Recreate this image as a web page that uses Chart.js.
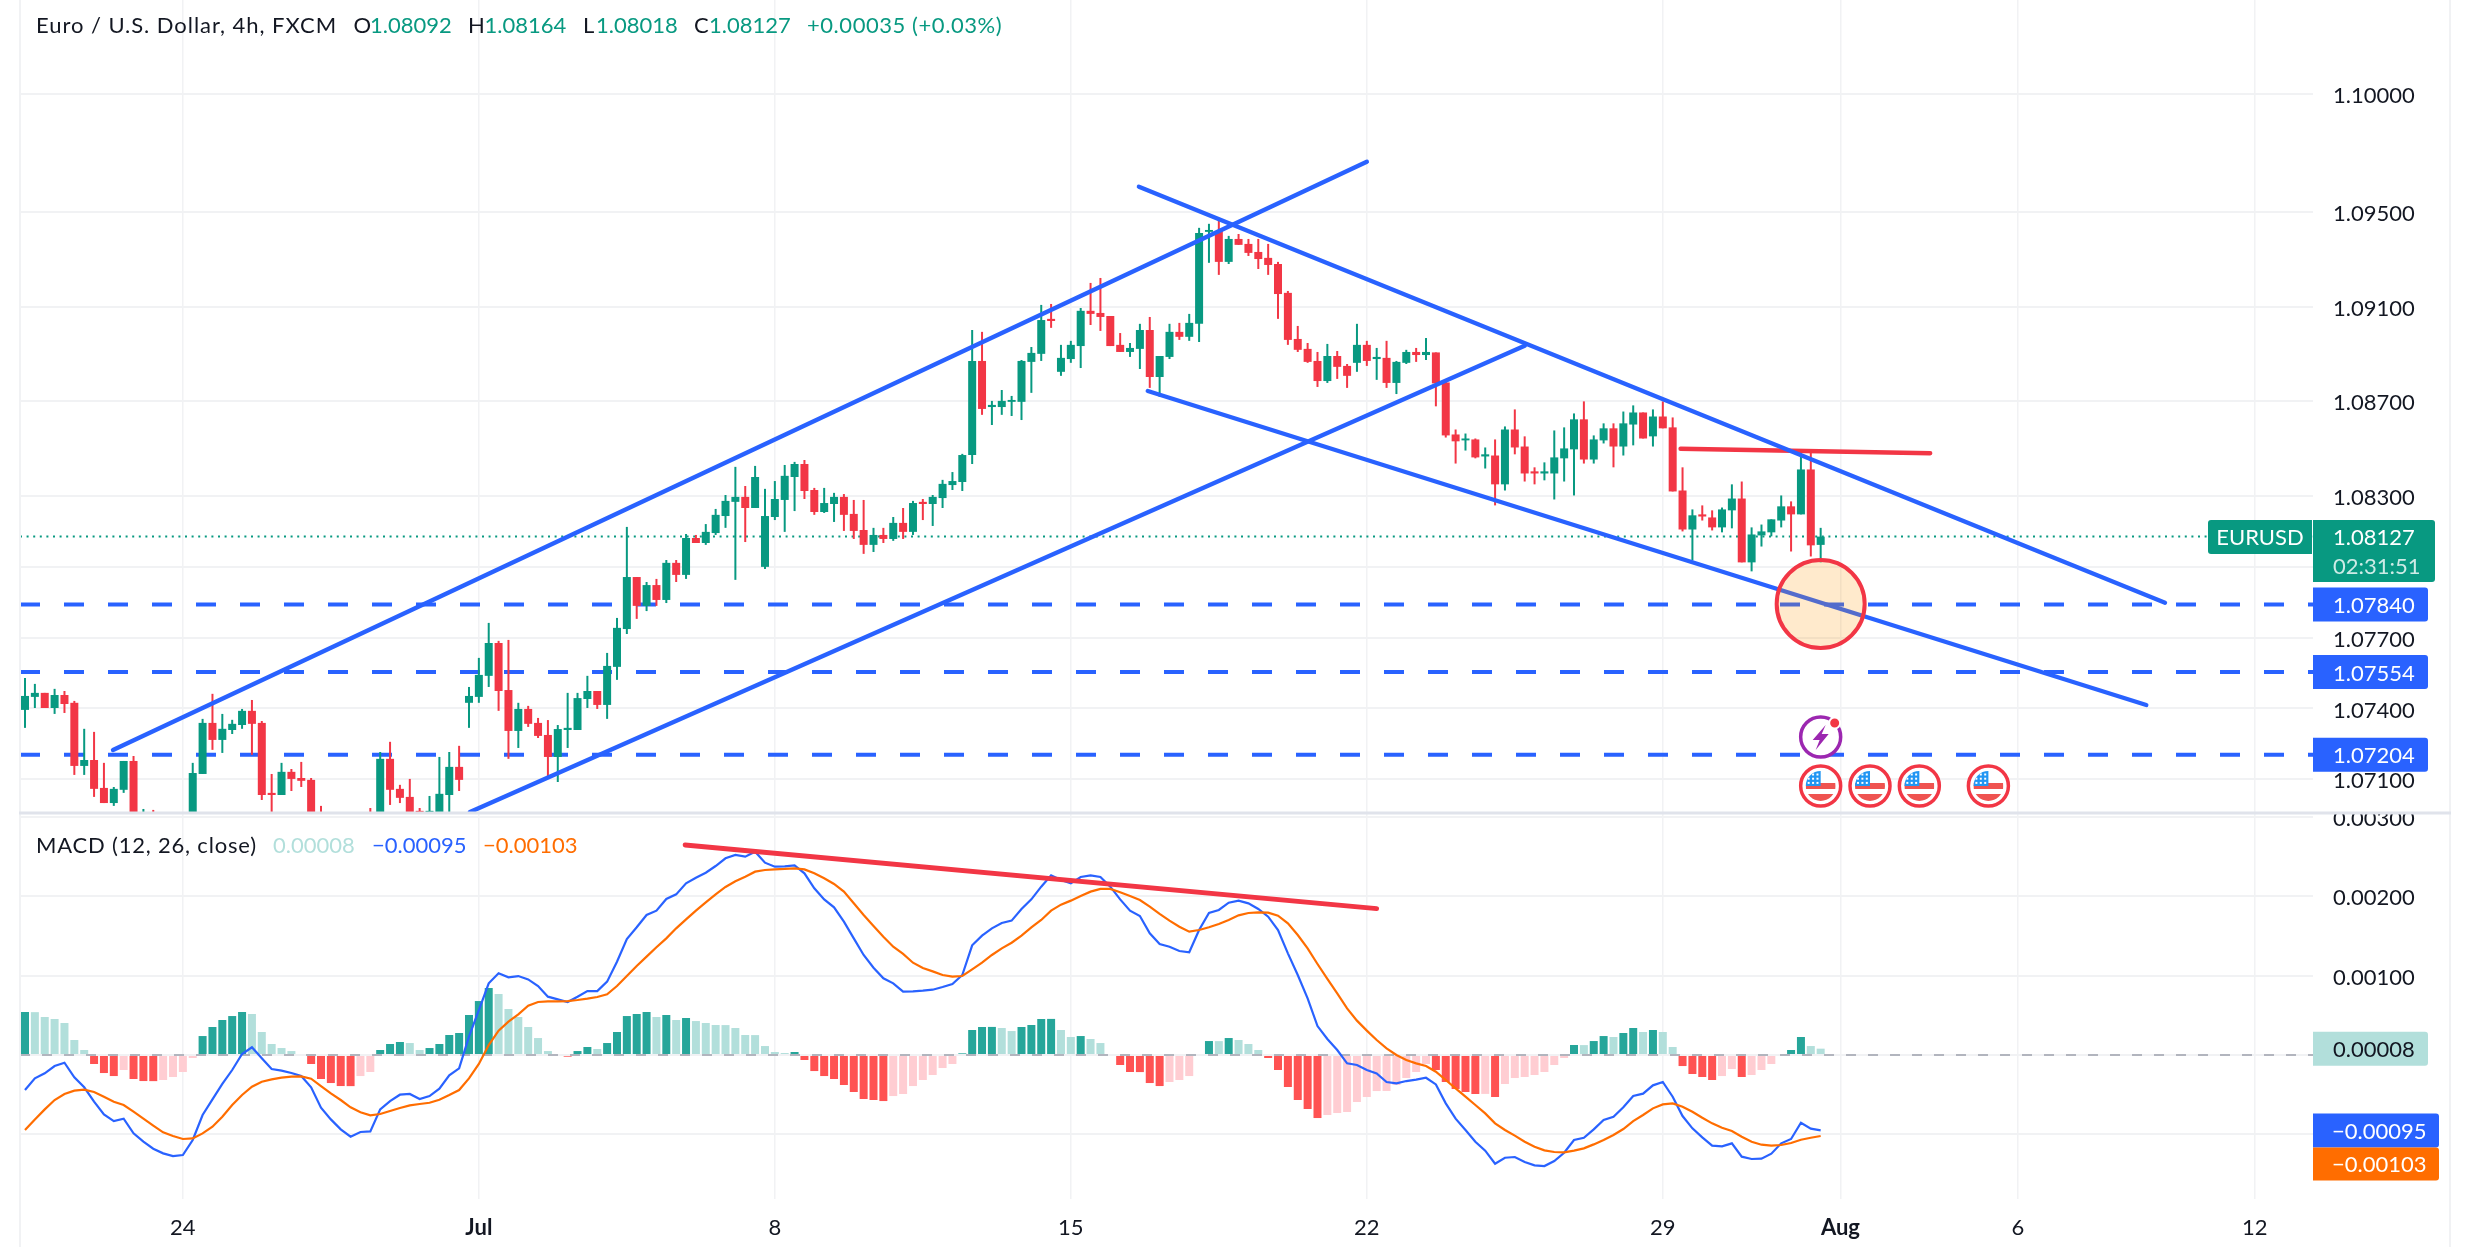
<!DOCTYPE html>
<html>
<head>
<meta charset="utf-8">
<title>EURUSD 4h</title>
<script src="https://cdn.jsdelivr.net/npm/chart.js@4/dist/chart.umd.js"></script>
<style>
  html, body { margin: 0; padding: 0; background: #fff; }
  canvas { display: block; }
</style>
</head>
<body>
<canvas id="chart" width="2470" height="1247"></canvas>
<script>
// candles, in 1e-5 price units (bar 0 is the leftmost visible 4h bar)
const opens = [
  107394,107449,107466,107402,107457,107424,107157,107182,107064,107000,107056,107178,106780,106880,106780,106860,106790,106880,107123,107339,
  107267,107309,107330,107390,107339,107043,107034,107132,107106,107098,106900,106880,106920,106850,106900,106940,106880,107187,107060,107026,
  106967,106950,106950,107034,107153,107424,107449,107538,107677,107478,107305,107398,107339,107288,107195,107309,107309,107440,107474,107415,
  107576,107736,107956,107834,107922,107859,108016,107965,108121,108100,108142,108214,108274,108295,108248,107999,108210,108282,108379,108434,
  108324,108231,108265,108295,108223,108155,108092,108134,108117,108185,108147,108274,108265,108290,108345,108358,108472,108870,108675,108675,
  108697,108697,108866,108900,109048,108824,108878,108933,109082,109073,109060,108938,108908,108921,109001,108802,108887,108993,108972,109027,
  109416,109420,109289,109386,109365,109331,109306,109280,109158,108963,108921,108870,108785,108891,108849,108862,108938,108878,108883,108777,
  108862,108908,108895,108906,108779,108559,108534,108538,108466,108470,108348,108580,108508,108403,108394,108394,108458,108496,108623,108453,
  108534,108585,108508,108601,108652,108551,108635,108589,108322,108157,108221,108208,108166,108238,108288,108018,108132,108145,108195,108255,
  108221,108411,108092
];
const highs = [
  107529,107504,107466,107483,107474,107432,107314,107301,107170,107068,107178,107199,106975,106971,106930,106920,106900,107170,107356,107462,
  107377,107352,107398,107436,107347,107123,107170,107144,107174,107106,106988,106950,106945,106930,106940,106979,107216,107259,107077,107102,
  106979,107030,107195,107216,107242,107491,107614,107762,107686,107690,107424,107411,107360,107351,107330,107466,107466,107538,107474,107635,
  107783,108168,107956,107935,107948,108028,108028,108138,108134,108180,108244,108303,108422,108341,108426,108329,108362,108430,108443,108451,
  108333,108333,108312,108307,108282,108282,108164,108164,108210,108248,108278,108286,108303,108367,108400,108477,109001,108993,108701,108747,
  108722,108874,108929,109107,109111,108938,108955,109094,109200,109221,109060,108988,108946,109027,109056,108891,109027,109031,109069,109433,
  109450,109475,109399,109407,109386,109386,109365,109289,109166,109018,108946,108908,108942,108912,108857,109027,108955,108925,108955,108870,
  108917,108925,108967,108906,108783,108580,108563,108542,108504,108538,108593,108665,108551,108420,108441,108576,108589,108648,108699,108555,
  108606,108606,108656,108682,108652,108665,108699,108631,108420,108242,108259,108238,108250,108348,108360,108166,108178,108200,108301,108276,
  108479,108487,108164
];
const lows = [
  107318,107402,107402,107377,107381,107119,107119,107026,107000,106988,107043,106800,106740,106750,106720,106740,106750,106850,107123,107225,
  107212,107292,107314,107204,107013,106900,107034,107051,107068,106850,106850,106800,106820,106790,106820,106800,106850,106992,107000,106880,
  106900,106920,106900,106950,107051,107318,107424,107491,107390,107187,107233,107322,107275,107110,107089,107233,107309,107402,107398,107356,
  107521,107715,107779,107812,107834,107846,107935,107948,108100,108092,108134,108164,107944,108104,108248,107990,108197,108147,108235,108286,
  108219,108227,108189,108151,108117,108054,108062,108100,108109,108117,108134,108197,108172,108248,108324,108320,108434,108642,108599,108642,
  108637,108620,108735,108870,109010,108807,108862,108840,109022,108997,108933,108908,108887,108836,108756,108718,108878,108959,108955,108950,
  109285,109234,109280,109361,109314,109259,109234,109048,108938,108908,108862,108760,108777,108794,108756,108824,108849,108790,108756,108730,
  108857,108866,108874,108678,108546,108436,108491,108458,108415,108259,108322,108475,108360,108348,108365,108284,108360,108301,108436,108436,
  108521,108420,108470,108513,108542,108508,108585,108318,108149,108026,108195,108153,108145,108162,108018,107980,108085,108128,108166,108064,
  108221,108043,108018
];
const closes = [
  107453,107466,107402,107457,107419,107157,107182,107060,107000,107060,107178,106850,106870,106790,106860,106790,106860,107127,107339,107267,
  107314,107335,107390,107335,107034,107034,107132,107102,107094,106900,106880,106920,106850,106900,106860,106860,107187,107056,107022,106920,
  106930,106967,107039,107153,107098,107453,107542,107677,107474,107305,107398,107335,107284,107195,107313,107318,107444,107474,107415,107580,
  107741,107956,107834,107922,107859,108016,107965,108121,108100,108147,108219,108278,108295,108248,108379,108214,108286,108384,108434,108320,
  108231,108269,108295,108219,108151,108092,108134,108117,108185,108147,108269,108265,108295,108350,108362,108472,108870,108667,108684,108701,
  108705,108870,108904,109043,109039,108883,108938,109082,109069,109056,108933,108908,108925,109001,108802,108891,108993,108972,109031,109411,
  109424,109289,109386,109361,109327,109301,109276,109153,108959,108917,108866,108785,108891,108845,108807,108938,108870,108887,108777,108866,
  108908,108895,108908,108775,108555,108530,108542,108462,108475,108348,108580,108504,108394,108394,108403,108462,108500,108623,108453,108538,
  108585,108508,108606,108652,108542,108635,108585,108318,108157,108217,108212,108166,108242,108288,108018,108136,108149,108200,108255,108221,
  108411,108090,108127
];

// MACD pane, same 1e-5 units
const macdLine = [
  -44.1,-29.4,-23.1,-13.9,-9.7,-28.1,-40.7,-58.8,-74.8,-83.2,-80.2,-98.7,-109.2,-118,-123.9,-127.3,-126,-107.1,-75.6,-55.9,
  -36.5,-18.9,1.3,9.7,-4.2,-17.6,-19.7,-22.7,-26.5,-40.7,-66.4,-81.1,-93.7,-102.9,-97,-96.2,-68.5,-58,-50,-49.1,
  -55.4,-51.7,-42.4,-25.6,-16.8,23.1,56.7,90.3,102.9,97.9,99.5,95.3,86.9,73.5,70.1,66.8,73.5,80.6,80.6,92.4,
  117.6,146.2,160.9,176.4,181.9,196.6,202.4,216.3,223.4,229.7,238.1,247.8,252,249.9,256.2,242.3,237.3,237.7,239,228.9,
  210,196.1,186.1,168,147,126,110,96.6,90.3,79.8,80.2,81.1,82.3,85.7,89.5,100.8,138.2,150.4,159.6,166.3,
  169.3,184,196.1,212.1,226.4,220.5,216.3,224.3,226.4,224.3,212.1,196.1,181.9,175.1,153.3,139.9,136.5,131,129.4,157.5,
  178.9,182.7,191.9,194.5,191.1,184,174.3,157.5,128.1,100.8,71.4,36.5,20.2,6.3,-10.5,-12.6,-18.9,-23.1,-34,-35.7,
  -32.8,-31.1,-28.6,-37,-60.9,-80.2,-94.5,-109.2,-120.5,-136.9,-129.4,-128.5,-134.8,-139,-139.9,-133.6,-123.1,-107.1,-104.2,-93.7,
  -81.9,-77.7,-65.9,-51.7,-48.7,-38.2,-34,-52.5,-76.9,-92.4,-103.7,-114.2,-115.1,-111.3,-128.1,-131,-130.6,-124.3,-111.3,-105.8,
  -85.3,-92.8,-95
];
const signalLine = [
  -94.5,-81.1,-68.5,-56.7,-49.1,-44.9,-43.7,-46.6,-52.5,-58.8,-63,-71.4,-80.2,-89,-97.4,-102.1,-105.8,-105,-98.7,-90.3,
  -77.7,-63,-50.4,-39.9,-33.6,-30.7,-28.6,-27.3,-26.9,-29.8,-39.1,-48.3,-56.7,-65.9,-72.2,-76,-74.3,-70.6,-66.8,-63.4,
  -61.7,-60.1,-56.3,-50.4,-44.1,-29.4,-11.3,12.6,30.7,42,51.2,62.2,66.8,67.6,67.6,68,69.3,71,73.1,76.4,
  86.9,99.5,112.1,123.9,135.7,147,159.6,170.9,181.9,192.4,202.4,211.7,218.8,224.7,231,233.1,233.9,234.4,235.2,233.9,
  228.9,222.6,215.5,205.8,191.1,176.4,162.5,149.1,136.5,127.3,116.3,109.6,105.4,100.8,98.7,99.5,107.9,116.3,126,134.4,
  141.5,150.4,160.9,170.1,181.9,189.4,194.5,200.3,205.8,209.2,209.2,205,200.3,195.3,186.9,177.7,169.3,161.7,155.4,157.5,
  160.9,165.1,170.1,176,178.9,179.8,179.3,175.6,165.9,151.2,134.4,114.7,95.8,77.7,58.8,43.3,30.7,18.9,8.4,0,
  -6.3,-10.5,-13.9,-21,-31.5,-42,-52.5,-63,-73.5,-86.1,-94.5,-101.6,-109.2,-115.5,-120.1,-122.2,-122.6,-120.5,-117.6,-112.6,
  -107.1,-100.8,-93.2,-83.2,-75.6,-67.2,-62.2,-60.9,-65.1,-71.4,-79,-86.1,-91.6,-95.8,-102.9,-109.2,-113,-114.2,-113.4,-110.9,
  -106.7,-104.2,-102
];
const histogram = [
  54.2,54,47.9,45.4,40.3,18.9,6.3,-11.3,-22.7,-26.5,-18.9,-30.2,-32.8,-32.9,-31.5,-27.7,-21.4,-3.8,23.9,35.3,
  44.1,49.1,54.2,51.7,29,13.9,8.8,5,1.3,-11.3,-30.2,-35.3,-39.1,-39.2,-26.5,-21.4,6.3,13.9,16.4,15.1,
  6.3,8.8,13.9,25.2,27.7,50.4,68,84.4,76.9,58,47.9,35.3,21.4,5,1.3,-2.1,5,10.1,7.6,15.1,
  29,49.1,51.7,54.2,47.9,50.4,44.1,46.6,42.8,40.3,37.8,37.7,34,25.2,25.1,11.3,3.8,2.5,3.8,-6.3,
  -20.2,-26.5,-30.2,-37.8,-46.6,-55.4,-56.7,-58,-51.7,-49.1,-39.1,-31.5,-25.2,-16.4,-11.3,2.1,31.5,35.3,35.4,34,
  30.2,35.3,37.8,45.4,45.5,31.5,22.7,23.9,20.2,15.1,1.3,-12.6,-21.4,-21.5,-35.3,-39.1,-34,-31.5,-26.5,1.3,
  17.6,17.5,21.4,18.9,13.9,6.3,-3.8,-18.9,-40.3,-56.7,-68,-79.4,-75.6,-73.1,-71.8,-59.2,-52.9,-45.4,-45.3,-37.8,
  -29,-21.4,-11.3,-18.9,-34,-42.8,-46.6,-49.1,-49,-52.9,-36.5,-29,-27.7,-25.2,-21.4,-12.6,-3.8,12.6,12.5,17.6,
  23.9,22.7,27.7,34,29,31.5,29,10.1,-13.9,-23.9,-27.7,-31.5,-26.5,-17.6,-27.7,-25.2,-18.9,-11.3,1.3,6.3,
  22.7,11.3,8
];

// axes
const timeTickBars = [16, 46, 76, 106, 136, 166, 184, 202, 226];
const timeTickLabels = ['24', 'Jul', '8', '15', '22', '29', 'Aug', '6', '12'];
const monthTickBars = [46, 184];
const priceTicks = [1.1, 1.095, 1.091, 1.087, 1.083, 1.08, 1.077, 1.074, 1.071];
const macdTicks = [0.003, 0.002, 0.001, 0, -0.001];

// hand drawn levels and trend lines: [bar, value, bar, value]
const levelPrices = [1.0784, 1.07554, 1.07204];
const lastPrice = 1.08127;
const channelUp = [8.92, 1.072244, 136, 1.097127];
const channelUpLow = [45.1, 1.069621, 152, 1.089345];
const channelDown = [112.9, 1.09607, 216.9, 1.078474];
const channelDownLow = [113.8, 1.087429, 215, 1.074147];
const resistance = [167.8, 1.084988, 193.1, 1.084793];
const macdDivergence = [66.9, 0.002646, 137, 0.001844];
const targetCircle = [182, 1.07842];

// calendar badges along the bottom of the price pane
const usEventBars = [182, 187, 192, 199];
const earningsBar = 182;

const headerTitle = 'Euro / U.S. Dollar, 4h, FXCM';
const headerOHLC = [['O', '1.08092', 353.5, 370], ['H', '1.08164', 468, 484.5], ['L', '1.08018', 583, 596], ['C', '1.08127', 694, 709]];
const headerChange = '+0.00035 (+0.03%)';

const PIP = 1e-5;
const FONT = 'Lato, "Noto Sans", sans-serif';
const GREEN = '#089981', RED = '#F23645', BLUE = '#2962FF', ORANGE = '#FF6D00', INK = '#131722';
const GRID = '#F1F2F4';

const barIdx = opens.map((_, i) => i);
const xMin = -0.507, xMax = 231.9;

function seg(a) { return [{ x: a[0], y: a[1] }, { x: a[2], y: a[3] }]; }
function hLine(v) { return [{ x: xMin, y: v }, { x: xMax, y: v }]; }

function lineSet(data, color, width, order, extra) {
  return Object.assign({
    type: 'line', data, yAxisID: 'y', borderColor: color, borderWidth: width,
    pointRadius: 0, tension: 0, order, borderCapStyle: 'round', clip: 0,
  }, extra || {});
}

const candleColors = barIdx.map(i => (closes[i] >= opens[i] ? GREEN : RED));
const histColors = histogram.map((v, i) => {
  const prev = i ? histogram[i - 1] : -Infinity;
  if (v >= 0) return v >= prev ? '#26A69A' : '#B2DFDB';
  return v <= prev ? '#FF5252' : '#FFCDD2';
});

const datasets = [
  lineSet([{ x: targetCircle[0], y: targetCircle[1] }], RED, 0, 0, {
    pointRadius: 44, pointBackgroundColor: 'rgba(255,152,0,0.2)', pointBorderColor: RED, pointBorderWidth: 4, clip: false,
  }),
  lineSet(seg(channelUp), BLUE, 4.4, 1),
  lineSet(seg(channelUpLow), BLUE, 4.4, 1),
  lineSet(seg(channelDown), BLUE, 4.4, 1),
  lineSet(seg(channelDownLow), BLUE, 4.4, 1),
  lineSet(seg(resistance), RED, 4.4, 1),
  lineSet(seg(macdDivergence), RED, 4.8, 1, { yAxisID: 'macd' }),
  lineSet(barIdx.map(i => ({ x: i, y: signalLine[i] * PIP })), ORANGE, 2.2, 2, { yAxisID: 'macd', borderCapStyle: 'butt' }),
  lineSet(barIdx.map(i => ({ x: i, y: macdLine[i] * PIP })), BLUE, 2.2, 3, { yAxisID: 'macd', borderCapStyle: 'butt' }),
  lineSet(hLine(0), '#B2B5BE', 2, 4, { yAxisID: 'macd', borderDash: [10, 12], borderCapStyle: 'butt' }),
  {
    type: 'bar', yAxisID: 'macd', order: 5, grouped: false, barThickness: 8, inflateAmount: 0,
    data: barIdx.map(i => ({ x: i, y: histogram[i] * PIP })), backgroundColor: histColors,
  },
  {
    type: 'bar', yAxisID: 'y', order: 6, grouped: false, barThickness: 8, inflateAmount: 0,
    data: barIdx.map(i => ({ x: i, y: [opens[i] * PIP, closes[i] * PIP] })), backgroundColor: candleColors,
  },
  {
    type: 'bar', yAxisID: 'y', order: 7, grouped: false, barThickness: 2, inflateAmount: 0,
    data: barIdx.map(i => ({ x: i, y: [lows[i] * PIP, highs[i] * PIP] })), backgroundColor: candleColors,
  },
].concat(levelPrices.map(p => lineSet(hLine(p), BLUE, 4, 8, { borderDash: [20, 24], borderCapStyle: 'butt' })))
  .concat([lineSet(hLine(lastPrice), GREEN, 2, 9, { borderDash: [2, 4.6], borderCapStyle: 'butt' })]);

function text(ctx, str, x, y, color, opts) {
  const o = opts || {};
  ctx.font = `${o.size || 22}px ${FONT}`;
  ctx.letterSpacing = (o.spacing || 0) + 'px';
  ctx.fillStyle = color;
  ctx.textAlign = o.align || 'left';
  ctx.textBaseline = 'middle';
  ctx.fillText(str, x, y);
  ctx.letterSpacing = '0px';
}

function tag(ctx, x, y, w, h, color) {
  ctx.fillStyle = color;
  ctx.beginPath();
  ctx.roundRect(x, y, w, h, [0, 3, 3, 0]);
  ctx.fill();
}

function usBadge(ctx, cx, cy) {
  ctx.save();
  ctx.fillStyle = '#fff';
  ctx.strokeStyle = RED;
  ctx.lineWidth = 3.5;
  ctx.beginPath(); ctx.arc(cx, cy, 20, 0, Math.PI * 2); ctx.fill(); ctx.stroke();
  ctx.beginPath(); ctx.arc(cx, cy, 15, 0, Math.PI * 2); ctx.clip();
  ctx.fillStyle = '#EF5350';
  ctx.fillRect(cx - 15, cy - 3, 30, 6);
  ctx.fillRect(cx - 15, cy + 8, 30, 8);
  ctx.fillStyle = '#2196F3';
  ctx.fillRect(cx - 15, cy - 15, 15, 15);
  ctx.fillStyle = '#fff';
  for (let r = 0; r < 3; r++) for (let c = 0; c < 3; c++) ctx.fillRect(cx - 13 + c * 4.4, cy - 12.5 + r * 4.2, 2, 2);
  ctx.restore();
}

function earningsBadge(ctx, cx, cy) {
  ctx.save();
  ctx.fillStyle = '#fff';
  ctx.strokeStyle = '#9C27B0';
  ctx.lineWidth = 3.5;
  ctx.beginPath(); ctx.arc(cx, cy, 20, 0, Math.PI * 2); ctx.fill(); ctx.stroke();
  ctx.fillStyle = '#9C27B0';
  ctx.beginPath();
  ctx.moveTo(cx + 5, cy - 12); ctx.lineTo(cx - 8, cy + 3); ctx.lineTo(cx - 1, cy + 3);
  ctx.lineTo(cx - 5, cy + 13); ctx.lineTo(cx + 8, cy - 3); ctx.lineTo(cx + 1, cy - 3);
  ctx.closePath(); ctx.fill();
  ctx.fillStyle = RED;
  ctx.strokeStyle = '#fff';
  ctx.lineWidth = 2;
  ctx.beginPath(); ctx.arc(cx + 14, cy - 14, 5.5, 0, Math.PI * 2); ctx.fill(); ctx.stroke();
  ctx.restore();
}

const overlayPlugin = {
  id: 'overlay',
  // Lato sits a little high on a middle baseline, nudge the axis labels onto their gridlines
  beforeDraw(chart) {
    [chart.scales.y, chart.scales.macd].forEach(s => {
      s.getLabelItems(chart.chartArea).forEach(item => { item.options.translation[1] += 2; });
    });
  },
  afterDraw(chart) {
    const { ctx, scales } = chart;
    const axisL = scales.x.right, axisR = 2450;
    ctx.save();

    // pane frame + separator (0.00300 label is cut off by the pane edge)
    ctx.fillStyle = '#fff';
    ctx.fillRect(axisL + 1, 800, axisR - axisL - 2, 12);
    ctx.fillStyle = GRID;
    ctx.fillRect(19, 0, 2, 1247);
    ctx.fillRect(axisR - 1, 0, 2, 1247);
    ctx.fillStyle = '#E0E3EB';
    ctx.fillRect(19, 811.5, axisR - 18, 3);

    // badges
    const badgeY = 786;
    usEventBars.forEach(b => usBadge(ctx, scales.x.getPixelForValue(b), badgeY));
    earningsBadge(ctx, scales.x.getPixelForValue(earningsBar), 737);

    // header
    text(ctx, headerTitle, 36, 26, INK, { spacing: 0.95 });
    headerOHLC.forEach(h => {
      text(ctx, h[0], h[2], 26, INK);
      text(ctx, h[1], h[3], 26, GREEN);
    });
    text(ctx, headerChange, 807, 26, GREEN, { spacing: 0.55 });
    text(ctx, 'MACD (12, 26, close)', 36, 846, INK, { spacing: 0.8 });
    text(ctx, '0.00008', 273, 846, '#B2DFDB');
    text(ctx, '\u22120.00095', 372, 846, BLUE);
    text(ctx, '\u22120.00103', 483, 846, ORANGE);

    // price tags on the axis
    const tagX = axisL;
    const yP = scales.y, yM = scales.macd;
    ctx.fillStyle = GREEN;
    ctx.beginPath(); ctx.roundRect(2208, 520, 104, 34, [3, 0, 0, 3]); ctx.fill();
    text(ctx, 'EURUSD', 2260, 538, '#fff', { align: 'center' });
    tag(ctx, tagX, 520, 122, 62, GREEN);
    text(ctx, '1.08127', 2333, 538, '#fff');
    text(ctx, '02:31:51', 2333, 567, 'rgba(255,255,255,0.8)');
    levelPrices.forEach(p => {
      const py = yP.getPixelForValue(p);
      tag(ctx, tagX, py - 17, 115, 34, BLUE);
      text(ctx, p.toFixed(5), 2333, py + 1.5, '#fff');
    });
    const z = yM.getPixelForValue(0.00008);
    tag(ctx, tagX, z - 17, 115, 34, '#B2DFDB');
    text(ctx, '0.00008', 2333, z + 1.5, INK);
    const m = yM.getPixelForValue(-0.00095);
    tag(ctx, tagX, m - 17, 126, 34, BLUE);
    text(ctx, '\u22120.00095', 2332, m + 1.5, '#fff');
    tag(ctx, tagX, m + 17, 126, 33, ORANGE);
    text(ctx, '\u22120.00103', 2332, m + 34.5, '#fff');
    ctx.restore();
  },
};

// fixed axis sizes so the panes keep their exact box
const yFit = s => { s.width = 137; s.paddingTop = 0; s.paddingBottom = 0; };
const tickFont = { family: FONT, size: 22 };

new Chart(document.getElementById('chart'), {
  type: 'bar',
  data: { datasets },
  plugins: [overlayPlugin],
  options: {
    responsive: false,
    devicePixelRatio: 1,
    animation: false,
    events: [],
    // autoPadding off: the big circle point would otherwise push the chart area in
    layout: { autoPadding: false, padding: { left: 20, right: 20, top: 0, bottom: 0 } },
    plugins: { legend: { display: false }, tooltip: { enabled: false }, title: { display: false } },
    scales: {
      x: {
        type: 'linear', min: xMin, max: xMax, offset: false, bounds: 'data',
        afterBuildTicks: s => { s.ticks = timeTickBars.map(v => ({ value: v })); },
        afterFit: s => { s.height = 48; s.paddingLeft = 0; s.paddingRight = 0; },
        grid: { color: GRID, lineWidth: 1.5, offset: false, drawTicks: false },
        border: { display: false },
        ticks: {
          autoSkip: false, maxRotation: 0, padding: 16, color: INK,
          callback: v => timeTickLabels[timeTickBars.indexOf(v)],
          font: c => ({ family: FONT, size: 22, weight: c.tick && monthTickBars.includes(c.tick.value) ? '700' : '400' }),
        },
      },
      y: {
        type: 'linear', position: 'right', stack: 'panes', stackWeight: 813, min: 1.069579, max: 1.103967, bounds: 'data',
        afterBuildTicks: s => { s.ticks = priceTicks.map(v => ({ value: v })); },
        afterFit: yFit,
        grid: { color: GRID, lineWidth: 2, drawTicks: false },
        border: { display: false },
        ticks: { padding: 20, color: INK, font: tickFont, autoSkip: false, callback: v => v.toFixed(5) },
      },
      macd: {
        type: 'linear', position: 'right', stack: 'panes', stackWeight: 386, min: -0.001814, max: 0.003049, bounds: 'data',
        afterBuildTicks: s => { s.ticks = macdTicks.map(v => ({ value: v })); },
        afterFit: yFit,
        grid: { color: GRID, lineWidth: 2, drawTicks: false },
        border: { display: false },
        ticks: { padding: 20, color: INK, font: tickFont, autoSkip: false, callback: v => v.toFixed(5) },
      },
    },
  },
});
</script>
</body>
</html>
